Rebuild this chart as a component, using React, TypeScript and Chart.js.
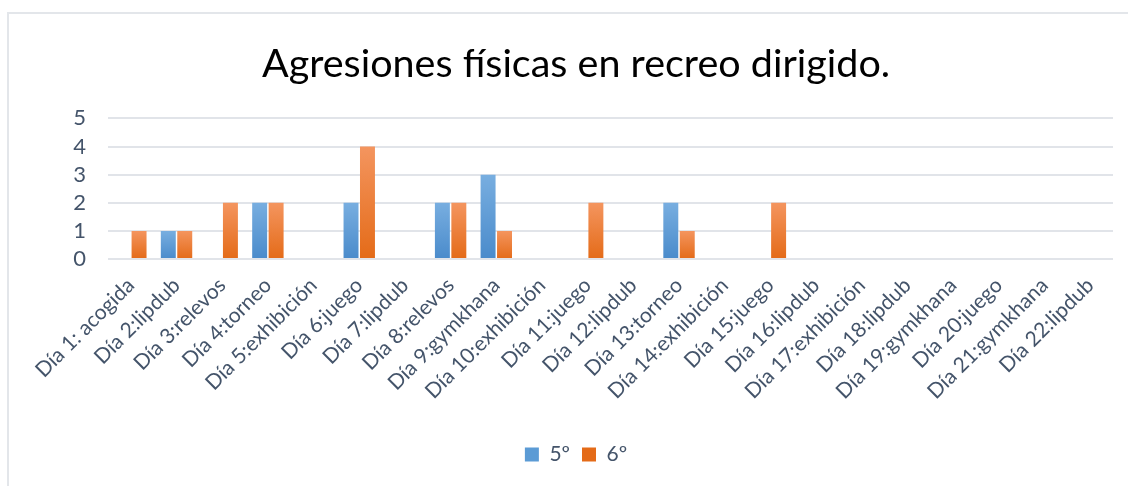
import React, { useEffect, useRef } from "react";
import { Chart, registerables } from "chart.js";

Chart.register(...registerables);

const categories = [
  "Día 1: acogida", "Día 2:lipdub", "Día 3:relevos", "Día 4:torneo", "Día 5:exhibición",
  "Día 6:juego", "Día 7:lipdub", "Día 8:relevos", "Día 9:gymkhana", "Día 10:exhibición",
  "Día 11:juego", "Día 12:lipdub", "Día 13:torneo", "Día 14:exhibición", "Día 15:juego",
  "Día 16:lipdub", "Día 17:exhibición", "Día 18:lipdub", "Día 19:gymkhana", "Día 20:juego",
  "Día 21:gymkhana", "Día 22:lipdub",
];
const quinto = [0, 1, 0, 2, 0, 2, 0, 2, 3, 0, 0, 0, 2, 0, 0, 0, 0, 0, 0, 0, 0, 0];
const sexto = [1, 1, 2, 2, 0, 4, 0, 2, 1, 0, 2, 0, 1, 0, 2, 0, 0, 0, 0, 0, 0, 0];
const yTicks = [0, 1, 2, 3, 4, 5];

const FONT = "Lato, 'Open Sans', sans-serif";
const TEXT = "#44546a";

function gradientFill(light: string, dark: string, solid: string) {
  return (ctx: any) => {
    const chart = ctx.chart;
    const y = chart.scales && chart.scales.y;
    if (ctx.type !== "data" || !y) return solid;
    const v = ctx.raw as number;
    const top = y.getPixelForValue(v);
    const bottom = y.getPixelForValue(0);
    if (!isFinite(top) || !isFinite(bottom) || Math.abs(bottom - top) < 1) return solid;
    const g = chart.ctx.createLinearGradient(0, top, 0, bottom);
    g.addColorStop(0, light);
    g.addColorStop(1, dark);
    return g;
  };
}

export default function App() {
  const ref = useRef<HTMLCanvasElement | null>(null);
  useEffect(() => {
    if (!ref.current) return;
    const chart = new Chart(ref.current, {
      type: "bar",
      data: {
        labels: categories,
        datasets: [
          {
            label: "5º",
            data: quinto,
            backgroundColor: gradientFill("#78aee0", "#4a8bcb", "#5b9bd5"),
            borderWidth: 0,
            categoryPercentage: 0.72,
            barPercentage: 0.91,
          },
          {
            label: "6º",
            data: sexto,
            backgroundColor: gradientFill("#f4955f", "#e46b18", "#ed7d31"),
            borderWidth: 0,
            categoryPercentage: 0.72,
            barPercentage: 0.91,
          },
        ],
      },
      options: {
        responsive: false,
        animation: false,
        layout: { padding: { left: 30, right: 15, top: 0, bottom: 11 } },
        plugins: {
          title: {
            display: true,
            text: "Agresiones físicas en recreo dirigido.",
            color: "#000000",
            font: { family: FONT, size: 39.5, weight: "normal" },
            padding: { top: 27, bottom: 30 },
          },
          legend: {
            display: true,
            position: "bottom",
            labels: {
              color: TEXT,
              font: { family: FONT, size: 21 },
              boxWidth: 14,
              boxHeight: 14,
              padding: 12,
            },
          },
          tooltip: { enabled: false },
        },
        scales: {
          x: {
            grid: { display: false },
            border: { display: false },
            ticks: {
              color: TEXT,
              font: { family: FONT, size: 21 },
              minRotation: 45,
              maxRotation: 45,
              autoSkip: false,
              padding: 6,
            },
            afterFit: (s: any) => {
              s.height = 173;
            },
          },
          y: {
            min: 0,
            max: 5,
            afterBuildTicks: (s: any) => {
              s.ticks = yTicks.map((v) => ({ value: v }));
            },
            grid: { color: "#e1e4e9", lineWidth: 2, drawTicks: false },
            border: { display: false },
            ticks: {
              color: TEXT,
              font: { family: FONT, size: 22 },
              padding: 22,
              autoSkip: false,
            },
            afterFit: (s: any) => {
              s.width = 69;
            },
          },
        },
      },
    });
    return () => chart.destroy();
  }, []);

  return (
    <div
      style={{
        position: "absolute",
        left: 7,
        top: 12,
        width: 1119,
        height: 472,
        borderTop: "2px solid #e3e6ea",
        borderLeft: "2px solid #e3e6ea",
        background: "#ffffff",
      }}
    >
      <canvas ref={ref} width={1119} height={472} style={{ display: "block" }} />
    </div>
  );
}
